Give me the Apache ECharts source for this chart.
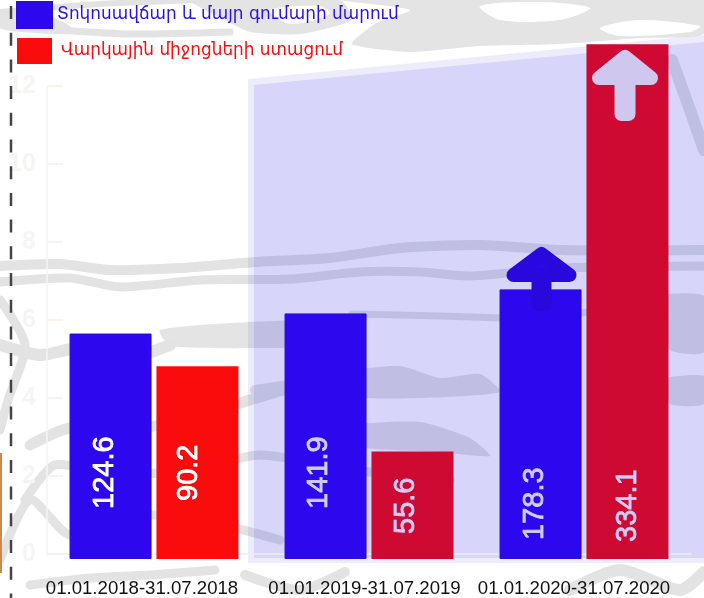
<!DOCTYPE html>
<html><head><meta charset="utf-8">
<style>html,body{margin:0;padding:0;background:#fff}#c{width:704px;height:598px}</style>
<script src="https://cdn.jsdelivr.net/npm/echarts@6/dist/echarts.min.js"></script>
</head><body><div id="c"></div>
<script>
const categories = ['01.01.2018-31.07.2018','01.01.2019-31.07.2019','01.01.2020-31.07.2020'];
const seriesNames = ['Տոկոսավճար և մայր գումարի մարում','Վարկային միջոցների ստացում'];
// bar heights as read against the faint 0-12 axis; printed labels differ in the source
const blueHeights = [5.72, 6.23, 6.84];
const redHeights = [4.89, 2.73, 13.06];
const blueLabels = ['124.6','141.9','178.3'];
const redLabels = ['90.2','55.6','334.1'];
const axisTicks = [0,2,4,6,8,10,12];

const BLUE='#2d08ee', RED='#fb0c0c', CRIMSON='#ce0a33', PALE='#d0cdf6';
const blueDist=[50,50,19], blueOff=[-6,-6.5,-5.5], redDist=[58,25,17], redOff=[-8.5,-6,0.5];
const catShift=[24,9,20];

function lbl(text,dist,off,color){return {show:true,position:'insideBottom',distance:dist,offset:[0,off],rotate:90,align:'left',verticalAlign:'middle',
  formatter:text,color:color,fontFamily:'Liberation Sans',fontSize:29,fontWeight:'normal',textBorderColor:color,textBorderWidth:0.8};}

// grey watermark, decoration only
const wmBlobs=[
 [[340,0],[704,0],[704,34],[640,38],[560,44],[480,46],[410,52],[352,44],[375,24],[410,10]],
 [[190,0],[340,0],[352,20],[300,34],[250,32],[225,20]],
 [[0,12],[30,8],[70,26],[70,34],[20,32],[0,28]],
 [[352,372],[400,366],[440,378],[480,374],[500,392],[420,398],[352,396]],
 [[352,426],[420,422],[470,438],[490,456],[440,452],[352,446]],
 [[160,330],[250,322],[352,322],[352,346],[260,348],[170,346]],
 [[640,300],[704,296],[704,352],[670,350]],
 [[660,380],[704,376],[704,404],[670,404]]
];
const wmHoles=[
 [[480,6],[540,2],[590,8],[560,20],[500,20]],[[600,28],[640,20],[700,26],[690,32],[620,36]],[[270,10],[320,6],[330,14],[290,24]]
];
const wm=[
 [[[60,30],[130,34],[230,32]],7],
 [[[0,12],[100,4],[200,0]],6],
 [[[0,266],[60,264],[110,270],[180,268],[255,262],[330,258],[400,248],[480,245],[560,250],[704,250]],10],
 [[[0,282],[70,278],[120,287],[200,280],[290,279],[360,272],[420,272],[470,276],[560,268],[704,266]],9],
 [[[352,314],[440,316],[520,318],[600,312],[704,320]],7],
 [[[0,345],[40,355],[80,348],[120,360],[170,345]],12],
 [[[0,300],[25,345],[8,400],[0,430]],9],
 [[[255,390],[300,385],[352,396]],10],
 [[[30,445],[70,428],[130,430],[190,418],[250,400],[300,385]],11],
 [[[25,500],[55,465],[110,475],[190,470],[260,455],[352,470],[450,480]],9],
 [[[0,560],[30,500],[70,535],[120,515],[200,520],[280,540]],9],
 [[[30,585],[90,578],[150,575],[215,570]],9],
 [[[245,575],[300,590],[345,572]],10],
 [[[570,590],[620,570],[680,590],[704,572]],12],
 [[[672,60],[690,110],[704,150]],12]
];
const graphics=[];
wmBlobs.forEach(pts=>graphics.push({type:'polygon',silent:true,z:-6,shape:{points:pts,smooth:0.2},style:{fill:'#e4e4e4'}}));
wmHoles.forEach(pts=>graphics.push({type:'polygon',silent:true,z:-5,shape:{points:pts,smooth:0.3},style:{fill:'#fff'}}));
wm.forEach(([pts,w])=>graphics.push({type:'polyline',silent:true,z:-5,shape:{points:pts,smooth:0.25},style:{stroke:'#e3e3e3',lineWidth:w,fill:null,lineCap:'round',lineJoin:'round'}}));
// tinted panel behind the last two groups
graphics.push({type:'polygon',silent:true,z:-3,shape:{points:[[248,79],[704,35],[704,563],[248,563]]},style:{fill:'rgba(70,70,235,0.10)'}});
graphics.push({type:'polygon',silent:true,z:-3,shape:{points:[[254,85],[704,42],[704,558],[254,558]]},style:{fill:'rgba(35,25,225,0.105)'}});
// dashed rule & orange sliver on the left
graphics.push({type:'line',silent:true,z:1,shape:{x1:11,y1:6,x2:11,y2:598},style:{stroke:'#444',lineWidth:2.5,lineDash:[13,13.7]}});
graphics.push({type:'rect',silent:true,z:1,shape:{x:0,y:453,width:2,height:120},style:{fill:'#c98a4a'}});
// arrows
const arrow=(cx,tip,hw,base,sw,tail)=>[[cx,tip],[cx+hw,base],[cx+sw,base],[cx+sw,tail],[cx-sw,tail],[cx-sw,base],[cx-hw,base]];
graphics.push({type:'polygon',silent:true,z:20,shape:{points:arrow(541.5,254,28,275,3,304)},style:{fill:'#2a08ec',stroke:'#2808dc',lineWidth:14,lineJoin:'round'}});
graphics.push({type:'polygon',silent:true,z:20,shape:{points:arrow(625,57,26,78,3.5,114)},style:{fill:'#cfc7ee',stroke:'#cfc7ee',lineWidth:14,lineJoin:'round'}});

const option={
 animation:false,
 backgroundColor:'#fff',
 legend:{left:16,top:1,padding:0,orient:'vertical',itemWidth:35,itemHeight:26,itemGap:9,icon:'rect',selectedMode:false,
  data:[{name:seriesNames[0],textStyle:{color:'#2a10f0'}},{name:seriesNames[1],textStyle:{color:'#fb0c0c',padding:[0,0,0,4]}}],
  textStyle:{fontFamily:'DejaVu Sans',fontSize:16.9}},
 grid:[{left:47,top:86,right:13,bottom:44},{left:46.5,top:86,right:12.5,bottom:37.5}],
 xAxis:[
  {gridIndex:0,type:'category',data:categories,axisLabel:{show:false},axisTick:{show:false},axisLine:{lineStyle:{color:'#f3eeee',width:1.5}}},
  {gridIndex:1,type:'category',data:categories.map((c,i)=>({value:c,textStyle:{padding:[0,catShift[i],0,0]}})),
   axisTick:{show:false},axisLine:{show:false},
   axisLabel:{interval:0,margin:20,color:'#111',fontFamily:'Liberation Sans',fontSize:18.6}}
 ],
 yAxis:[
  {gridIndex:0,type:'value',min:axisTicks[0],max:axisTicks[axisTicks.length-1],interval:2,splitLine:{show:false},
   axisLine:{show:true,lineStyle:{color:'#f6f4f2',width:1.5}},
   axisTick:{show:true,inside:true,length:16,lineStyle:{color:'#faeee8',width:1.5}},
   axisLabel:{margin:11,color:'#f5f5f3',fontFamily:'Liberation Sans',fontSize:25,fontWeight:'bold'}},
  {gridIndex:1,type:'value',min:0,max:12,show:false}
 ],
 series:[
  {name:seriesNames[0],type:'bar',xAxisIndex:1,yAxisIndex:1,barWidth:82,barGap:'6%',clip:false,z:5,
   itemStyle:{color:BLUE,borderColor:'#2a0bdc',borderWidth:1},
   data:blueHeights.map((v,i)=>({value:v,label:lbl(blueLabels[i],blueDist[i],blueOff[i],i?PALE:'#fff')}))},
  {name:seriesNames[1],type:'bar',xAxisIndex:1,yAxisIndex:1,barWidth:82,clip:false,z:5,
   itemStyle:{color:RED},
   data:redHeights.map((v,i)=>({value:v,itemStyle:{color:i?CRIMSON:RED},label:lbl(redLabels[i],redDist[i],redOff[i],i?PALE:'#fff')}))}
 ],
 graphic:graphics
};
echarts.init(document.getElementById('c'),null,{renderer:'canvas'}).setOption(option);
</script></body></html>
